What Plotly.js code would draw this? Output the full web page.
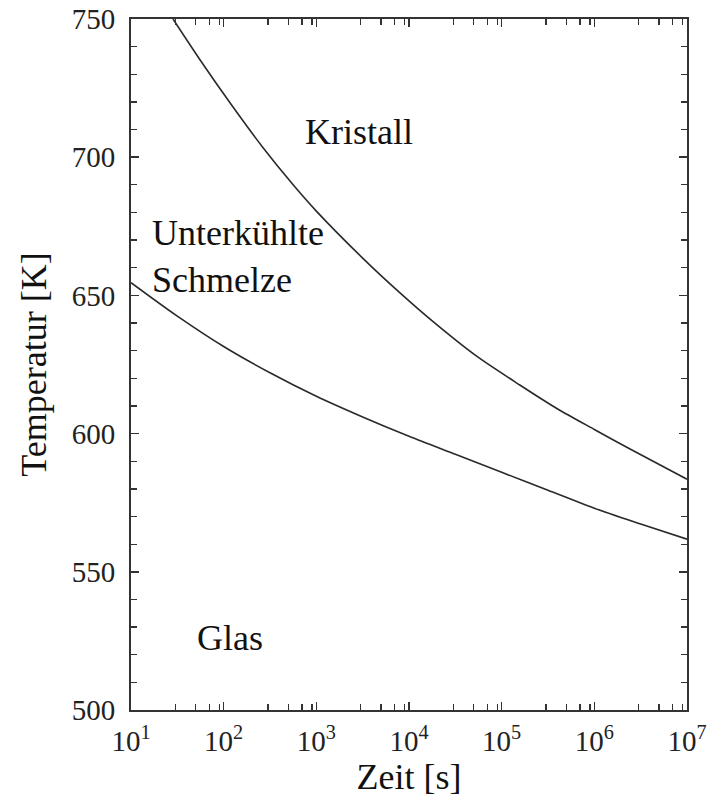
<!DOCTYPE html>
<html>
<head>
<meta charset="utf-8">
<script src="https://cdn.plot.ly/plotly-3.0.1.min.js"></script>
<style>html,body{margin:0;padding:0;background:#fff;}#chart{width:711px;height:802px;}</style>
</head>
<body>
<div id="chart"></div>
<script>
// Kristall boundary (upper curve): time [s] and temperature [K]
const upperTime = [28.4, 56.2, 117, 265, 562, 1000, 3162, 7943, 18200, 53700, 158500, 398000, 1000000, 2400000, 10000000];
const upperTemp = [750, 735.0, 719.7, 703.5, 690.0, 680.5, 663.5, 651.0, 640.5, 628.0, 617.5, 609.0, 601.5, 594.5, 583.5];
// Glass transition (lower curve)
const lowerTime = [10, 31.6, 100, 316, 1000, 3162, 10000, 31620, 100000, 316200, 1000000, 3162000, 10000000];
const lowerTemp = [654.6, 642.5, 631.5, 622.0, 613.5, 606.0, 599.0, 592.5, 586.0, 579.5, 573.0, 567.3, 561.8];

const xTickVals = [10, 100, 1000, 10000, 100000, 1000000, 10000000];
const xTickText = ['10<sup>1</sup>','10<sup>2</sup>','10<sup>3</sup>','10<sup>4</sup>','10<sup>5</sup>','10<sup>6</sup>','10<sup>7</sup>'];
const minorFactors = [3, 5, 7, 9];
const yTickVals = [500, 550, 600, 650, 700, 750];

const regionLabels = ['Kristall', 'Unterkühlte<br>Schmelze', 'Glas'];

const minorX = [];
xTickVals.slice(0, -1).forEach(d => minorFactors.forEach(f => minorX.push(d * f)));

const serif = '"Liberation Serif", "Times New Roman", Times, serif';
const axisColor = '#333333';

const traces = [
  {x: upperTime, y: upperTemp, mode: 'lines', line: {color: '#2a2a2a', width: 1.6, shape: 'spline', smoothing: 0.8}, hoverinfo: 'skip'},
  {x: lowerTime, y: lowerTemp, mode: 'lines', line: {color: '#2a2a2a', width: 1.6, shape: 'spline', smoothing: 0.8}, hoverinfo: 'skip'}
];

const layout = {
  width: 711, height: 802,
  margin: {l: 131, r: 24, t: 19, b: 92},
  paper_bgcolor: '#fff', plot_bgcolor: '#fff',
  showlegend: false,
  font: {family: serif, color: '#111'},
  xaxis: {
    type: 'log', range: [1, 7],
    tickmode: 'array', tickvals: xTickVals, ticktext: xTickText,
    ticks: 'inside', ticklen: 8, tickwidth: 1.6, tickcolor: axisColor,
    showline: true, linecolor: axisColor, linewidth: 2, mirror: 'ticks',
    showgrid: false, zeroline: false,
    tickfont: {family: serif, size: 29, color: '#222'},
    ticklabelstandoff: 4,
    minor: {tickmode: 'array', tickvals: minorX, ticks: 'inside', ticklen: 6, tickwidth: 1.3, tickcolor: axisColor, showgrid: false},
    title: {text: 'Zeit [s]', font: {family: serif, size: 36, color: '#111'}, standoff: 6}
  },
  yaxis: {
    range: [500, 750],
    tickmode: 'array', tickvals: yTickVals,
    ticks: 'inside', ticklen: 8, tickwidth: 1.6, tickcolor: axisColor,
    showline: true, linecolor: axisColor, linewidth: 2, mirror: 'ticks',
    showgrid: false, zeroline: false,
    tickfont: {family: serif, size: 29, color: '#222'},
    ticklabelstandoff: 8,
    minor: {dtick: 10, ticks: 'inside', ticklen: 6, tickwidth: 1.3, tickcolor: axisColor, showgrid: false},
    title: {text: 'Temperatur [K]', font: {family: serif, size: 36, color: '#111'}, standoff: 14}
  },
  annotations: [
    {x: 3.46, y: 709, xref: 'x', yref: 'y', text: regionLabels[0], showarrow: false, font: {family: serif, size: 36, color: '#111'}},
    {x: 1.205, y: 664, xref: 'x', yref: 'y', text: regionLabels[1], showarrow: false, xanchor: 'left', align: 'left', font: {family: serif, size: 36, color: '#111'}},
    {x: 2.068, y: 526, xref: 'x', yref: 'y', text: regionLabels[2], showarrow: false, font: {family: serif, size: 36, color: '#111'}}
  ]
};

Plotly.newPlot('chart', traces, layout, {displayModeBar: false, staticPlot: true});
</script>
</body>
</html>
